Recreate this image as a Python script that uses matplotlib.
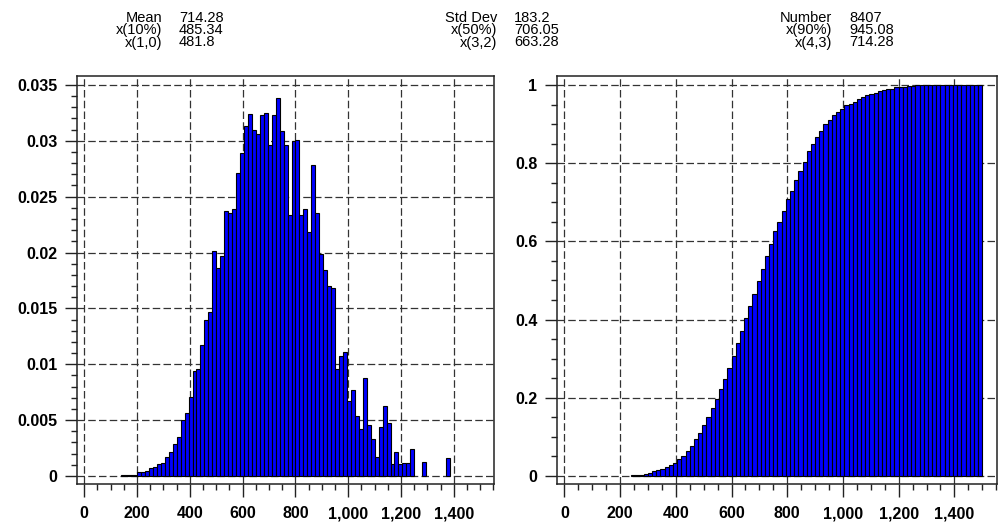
import numpy as np
import matplotlib.pyplot as plt
import matplotlib.ticker as ticker

# relative frequency per bin (bins 15 wide, first bin starts at 140)
freq_start = 140
freq_width = 15
freq = [0.00012, 0.00012, 0.00012, 0.00012,
        0.00033, 0.00033, 0.00048, 0.0007, 0.00083, 0.00107, 0.00113, 0.0017,
        0.0021, 0.0029, 0.0035, 0.005, 0.0056, 0.0071,
        0.0094, 0.0096, 0.0117, 0.014, 0.0147, 0.0201, 0.0186, 0.0197, 0.0237, 0.0235,
        0.0239, 0.0271, 0.0289, 0.0313, 0.0324, 0.031, 0.0306, 0.0323, 0.0325, 0.0296,
        0.0323, 0.0338, 0.0309, 0.0296, 0.0234, 0.03, 0.0301, 0.0234, 0.0239, 0.0218,
        0.0278, 0.0235, 0.0199, 0.0184, 0.017, 0.0168, 0.0096, 0.0107, 0.0111,
        0.0067, 0.0077, 0.0054, 0.0042, 0.0088, 0.0046, 0.0033, 0.0017, 0.0044, 0.0063,
        0.0047, 0.0011, 0.0021, 0.0011, 0.0012, 0.0012, 0.0024, 0, 0, 0.00125,
        0, 0, 0, 0, 0, 0.0016]

# cumulative frequency (bins 15 wide, first bin starts at 240)
cum_start = 240
cum_width = 15
cum = [0.0026, 0.003, 0.0035, 0.005, 0.0085, 0.012, 0.0145, 0.018, 0.022, 0.027,
       0.033, 0.0425, 0.052, 0.063, 0.0766, 0.0936, 0.111, 0.130, 0.151, 0.175,
       0.198, 0.223, 0.248, 0.277, 0.308, 0.340, 0.371, 0.404, 0.436, 0.466,
       0.499, 0.530, 0.562, 0.594, 0.626, 0.649, 0.677, 0.708, 0.730, 0.756,
       0.779, 0.804, 0.830, 0.848, 0.868, 0.883, 0.899, 0.910, 0.923, 0.931,
       0.939, 0.949, 0.952, 0.957, 0.965, 0.970, 0.974, 0.976, 0.979, 0.984,
       0.987, 0.989, 0.991, 0.994, 0.995, 0.995, 0.997, 0.997, 0.999, 1.0,
       1.0, 1.0, 1.0, 1.0, 1.0, 1.0, 1.0, 1.0, 1.0, 1.0,
       1.0, 1.0, 1.0, 1.0]

# summary statistics, one list per column
stat_names = [["Mean", "x(10%)", "x(1,0)"],
              ["Std Dev", "x(50%)", "x(3,2)"],
              ["Number", "x(90%)", "x(4,3)"]]
stat_values = [["714.28", "485.34", "481.8"],
               ["183.2", "706.05", "663.28"],
               ["8407", "945.08", "714.28"]]

x_ticks = [0, 200, 400, 600, 800, 1000, 1200, 1400]
x_labels = ["0", "200", "400", "600", "800", "1,000", "1,200", "1,400"]
freq_ticks = [0, 0.005, 0.01, 0.015, 0.02, 0.025, 0.03, 0.035]
freq_labels = ["0", "0.005", "0.01", "0.015", "0.02", "0.025", "0.03", "0.035"]
cum_ticks = [0, 0.2, 0.4, 0.6, 0.8, 1.0]
cum_labels = ["0", "0.2", "0.4", "0.6", "0.8", "1"]

W, H = 1005, 524


def px_axes(fig, x0, y0, x1, y1):
    """ axes placed by pixel box (top-left origin) """
    return fig.add_axes([x0 / W, 1 - y1 / H, (x1 - x0) / W, (y1 - y0) / H])


def style_axes(ax, yticks, ylabels, yminor):
    ax.set_xlim(-27.5, 1552)
    ax.set_xticks(x_ticks)
    ax.set_xticklabels(x_labels)
    ax.xaxis.set_minor_locator(ticker.MultipleLocator(50))
    ax.set_yticks(yticks)
    ax.set_yticklabels(ylabels)
    ax.yaxis.set_minor_locator(ticker.MultipleLocator(yminor))
    ax.tick_params(which='major', direction='out', length=9, width=1.0,
                   pad=5, labelsize=11.5, color='#222222')
    ax.tick_params(axis='x', which='major', pad=7)
    ax.tick_params(which='minor', direction='out', length=4.5, width=1.0,
                   color='#222222')
    for lab in ax.get_xticklabels() + ax.get_yticklabels():
        lab.set_fontweight('bold')
    ax.set_axisbelow(True)
    ax.grid(True, which='major', color='#333333', linewidth=0.9,
            linestyle=(0, (6, 2.6)))
    for sp in ax.spines.values():
        sp.set_linewidth(1.1)
        sp.set_color('#222222')


def draw_bars(ax, start, width, heights):
    h = np.array(heights)
    edges = start + width * np.arange(len(h))
    keep = h > 0
    ax.bar(edges[keep], h[keep], width=width, align='edge', color='#0000ff',
           edgecolor='black', linewidth=0.8, zorder=2)


def main():
    plt.rcParams['font.family'] = ['Liberation Sans', 'DejaVu Sans']
    fig = plt.figure(figsize=(W / 100, H / 100), dpi=100)

    ax1 = px_axes(fig, 77, 76, 494, 484)
    draw_bars(ax1, freq_start, freq_width, freq)
    ax1.set_ylim(-0.00072, 0.0358)
    style_axes(ax1, freq_ticks, freq_labels, 0.001)

    ax2 = px_axes(fig, 556.7, 76, 996.7, 484)
    draw_bars(ax2, cum_start, cum_width, cum)
    ax2.set_ylim(-0.0205, 1.023)
    style_axes(ax2, cum_ticks, cum_labels, 0.05)

    # statistics header above the panels
    col_x = [162, 497, 832]
    row_y = [17.5, 30, 42.5]
    for names, values, cx in zip(stat_names, stat_values, col_x):
        for name, val, ry in zip(names, values, row_y):
            fig.text(cx / W, 1 - ry / H, name, ha='right', va='center',
                     fontsize=10.5)
            fig.text((cx + 17) / W, 1 - ry / H, val, ha='left', va='center',
                     fontsize=10.5)

    fig.savefig('out.png', dpi=100)


if __name__ == '__main__':
    main()
